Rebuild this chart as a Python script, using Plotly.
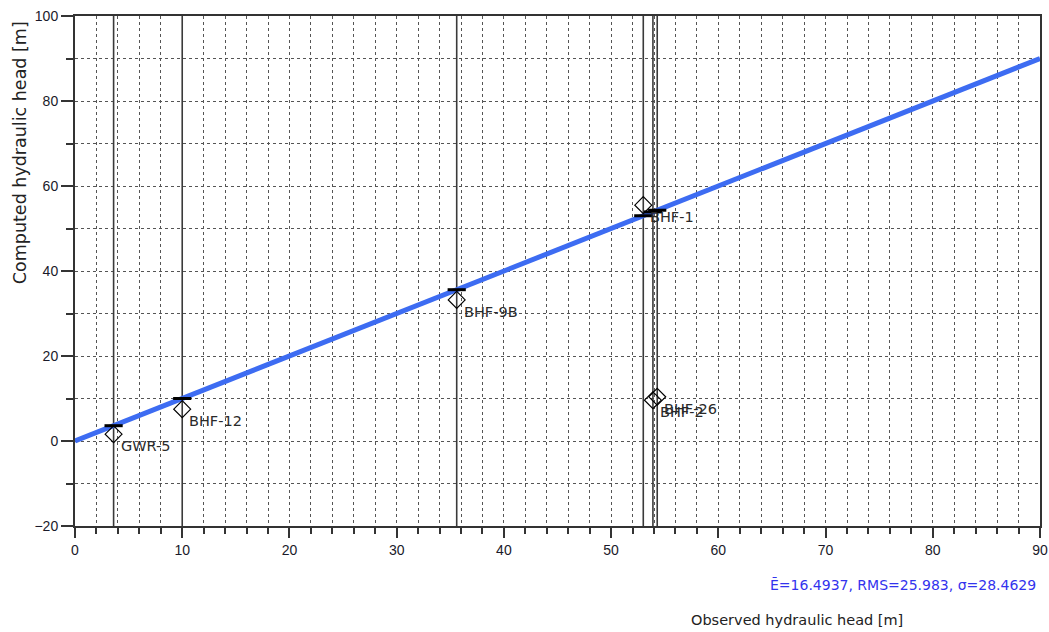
import plotly.graph_objects as go

names = ["GWR-5", "BHF-12", "BHF-9B", "BHF-1", "BHF-2", "BHF-26"]
observed = [3.6, 10.0, 35.6, 53.0, 53.9, 54.3]
computed = [1.6, 7.5, 33.2, 55.5, 9.6, 10.4]
line_x = [0, 90]
line_y = [0, 90]
x_range = [0, 90]
y_range = [-20, 100]
stats_text = "Ē=16.4937, RMS=25.983, σ=28.4629"

FONT = "DejaVu Sans"
TICKFONT = "Liberation Sans"
fig = go.Figure()

# vertical observation lines
for ob in observed:
    fig.add_trace(go.Scatter(x=[ob, ob], y=y_range, mode="lines",
                             line=dict(color="#3a3a3a", width=1.6),
                             showlegend=False, hoverinfo="skip"))

# 1:1 line
fig.add_trace(go.Scatter(x=line_x, y=line_y, mode="lines",
                         line=dict(color="#3d6cf2", width=5),
                         showlegend=False))

# marks on 1:1 line
fig.add_trace(go.Scatter(x=observed, y=observed, mode="markers",
                         marker=dict(symbol="line-ew", size=13, color="black",
                                     line=dict(color="black", width=3)),
                         showlegend=False))

# computed diamonds
fig.add_trace(go.Scatter(x=observed, y=computed, mode="markers",
                         marker=dict(symbol="diamond-open", size=13, color="black",
                                     line=dict(color="black", width=1.2)),
                         showlegend=False))

annotations = []
for nm, ob, cp in zip(names, observed, computed):
    annotations.append(dict(text=nm, x=ob, y=cp, xref="x", yref="y",
                            xanchor="left", yanchor="middle", xshift=5, yshift=-12,
                            showarrow=False,
                            font=dict(family=FONT, size=14.5, color="#2a2a2a")))

axis_common = dict(showline=True, linecolor="#333333", linewidth=2, mirror=True,
                   ticks="outside", tickcolor="#333333", tickwidth=2,
                   showgrid=True, gridcolor="#555555", griddash="dot", gridwidth=1,
                   zeroline=False, automargin=False,
                   tickfont=dict(family=TICKFONT, size=14, color="#1a1a2a"))

fig.update_xaxes(range=x_range, dtick=10, tick0=0, ticklen=10,
                 minor=dict(dtick=2, ticks="outside", ticklen=6, tickcolor="#333333",
                            showgrid=True, gridcolor="#555555", griddash="dot"),
                 **axis_common)
fig.update_yaxes(range=y_range, dtick=20, tick0=0, ticklen=12,
                 minor=dict(dtick=10, ticks="outside", ticklen=7, tickcolor="#333333",
                            showgrid=True, gridcolor="#555555", griddash="dot"),
                 **axis_common)

annotations += [
    dict(text="Computed hydraulic head [m]", textangle=-90,
         xref="paper", yref="paper", x=-0.057, y=0.733,
         xanchor="center", yanchor="middle", showarrow=False,
         font=dict(family=FONT, size=17.5, color="#222222")),
    dict(text="Observed hydraulic head [m]",
         xref="paper", yref="paper", x=0.748, y=-0.184,
         xanchor="center", yanchor="middle", showarrow=False,
         font=dict(family=FONT, size=14.5, color="#222222")),
    dict(text=stats_text,
         xref="paper", yref="paper", x=0.998, y=-0.116,
         xanchor="right", yanchor="middle", showarrow=False,
         font=dict(family=FONT, size=14, color="#3333ee")),
]

fig.update_layout(
    width=1049, height=632,
    margin=dict(l=75, r=9, t=16, b=106),
    paper_bgcolor="white", plot_bgcolor="white",
    annotations=annotations,
)

fig.write_html("out.html", config={"displayModeBar": False},
               post_script="document.body.style.margin='0px';document.body.style.overflow='hidden';")
